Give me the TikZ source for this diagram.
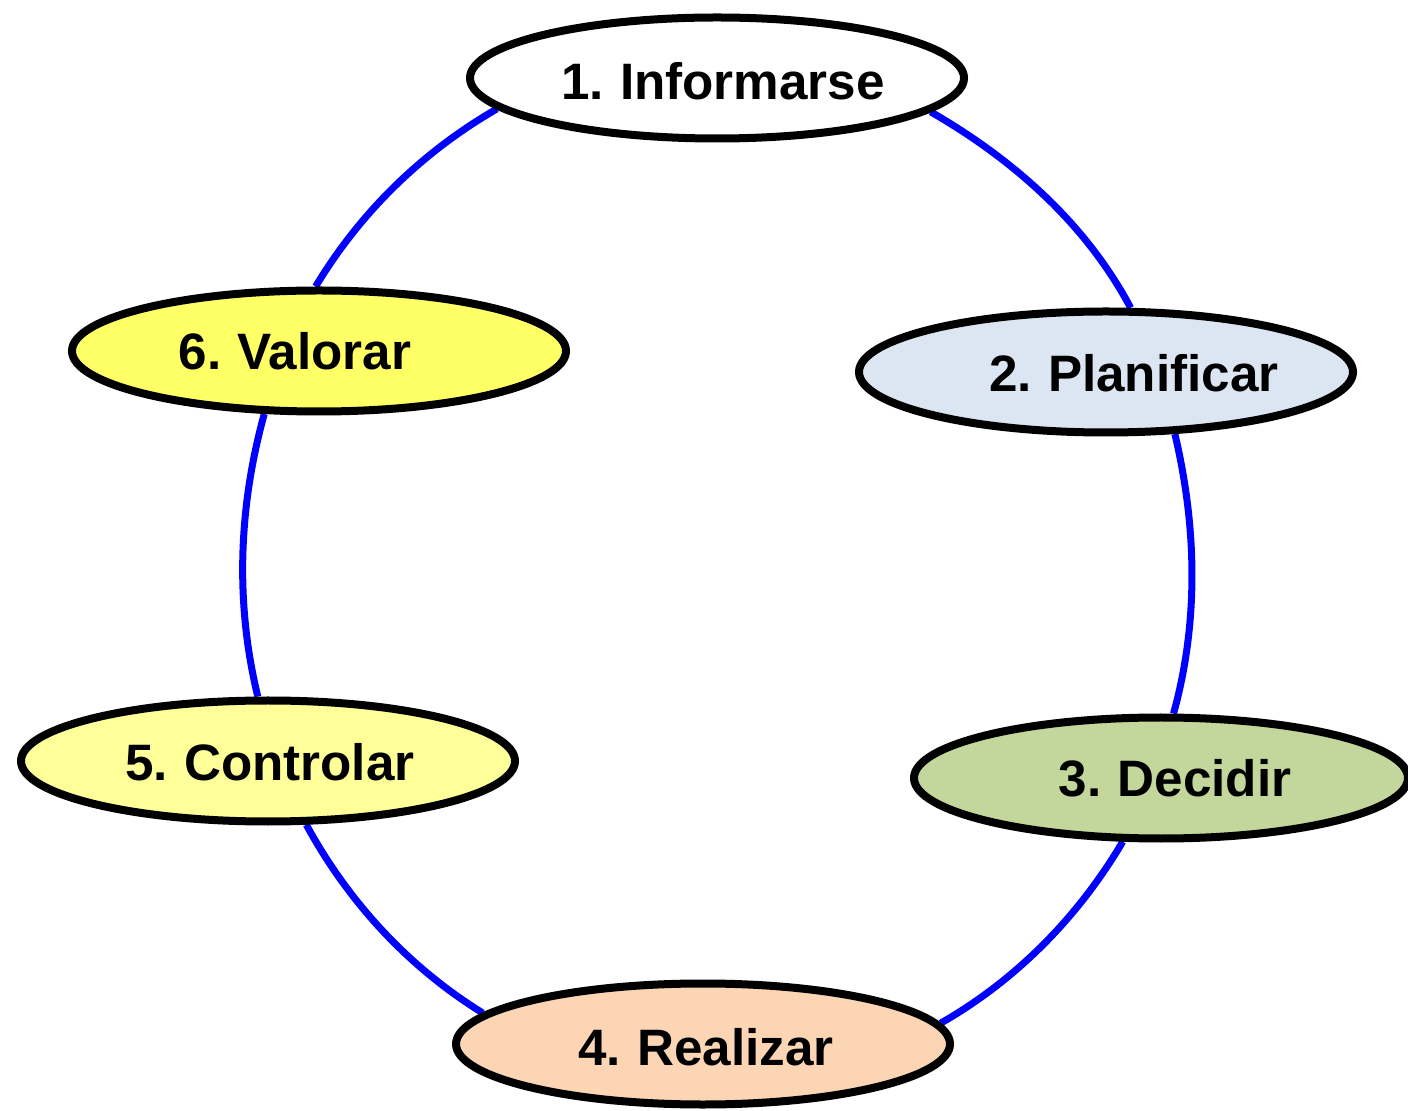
\documentclass[tikz,border=0pt]{standalone}
\usepackage{fontspec}
\setmainfont{Liberation Sans}[WordSpace=0.8]
\usetikzlibrary{shapes.geometric}
\pgfdeclarelayer{background}
\pgfsetlayers{background,main}
\definecolor{cPla}{HTML}{DCE6F2}
\definecolor{cDec}{HTML}{C3D69B}
\definecolor{cRea}{HTML}{FCD5B5}
\definecolor{cCon}{HTML}{FFFF99}
\definecolor{cVal}{HTML}{FFFF66}
\tikzset{
  stage/.style={ellipse, draw=black, line width=4pt, inner sep=0pt,
    minimum width=247pt, minimum height=60.5pt},
  stagetext/.style={anchor=base, inner sep=0pt, text=black,
    font=\fontsize{25.6pt}{30pt}\selectfont\bfseries},
  conn/.style={draw=blue, line width=3.5pt, looseness=0.87}
}
\begin{document}
\begin{tikzpicture}[x=0.5pt, y=-0.5pt]
\useasboundingbox (0,0) rectangle (1408,1111);
% stages
\node[stage, fill=white] (inf) at (717,78) {};
\node[stage, fill=cPla] (pla) at (1106,372) {};
\node[stage, fill=cDec] (dec) at (1161,778) {};
\node[stage, fill=cRea] (rea) at (703,1044) {};
\node[stage, fill=cCon] (con) at (268,761) {};
\node[stage, fill=cVal] (val) at (319,351) {};
% texts
\node[stagetext] (tinf) at (723,100) {1. Informarse};
\node[stagetext] (tpla) at (1134,392) {2. Planificar};
\node[stagetext] (tdec) at (1175,797) {3. Decidir};
\node[stagetext] (trea) at (706,1065) {4. Realizar};
\node[stagetext] (tcon) at (270,781) {5. Controlar};
\node[stagetext] (tval) at (295,370) {6. Valorar};
% connectors
\begin{pgfonlayer}{background}
\draw[conn] (inf.188) to[out=210, in=59] (val.93);
\draw[conn] (val.229) to[out=254.5, in=103.7] (con.99);
\draw[conn] (con.301) to[out=298.6, in=148.3] (rea.172);
\draw[conn] (rea.5) to[out=29.7, in=239.4] (dec.239);
\draw[conn] (dec.79) to[out=74.5, in=283.3] (pla.318);
\draw[conn] (pla.69) to[out=118, in=330.1] (inf.351);
\end{pgfonlayer}
\end{tikzpicture}
\end{document}
